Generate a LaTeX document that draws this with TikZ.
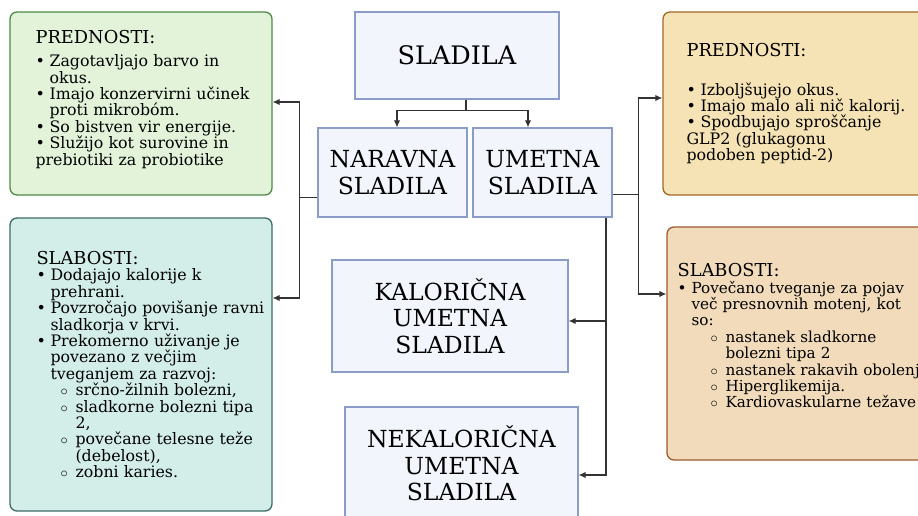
\documentclass[tikz,border=0pt]{standalone}
\usepackage{fontspec}
\setmainfont{DejaVu Serif}
\usepackage{tikz}
\usetikzlibrary{arrows.meta,positioning,calc}
\definecolor{greenFill}{HTML}{E2F3DA}
\definecolor{greenLine}{HTML}{4E8A45}
\definecolor{tealFill}{HTML}{D3EEE9}
\definecolor{tealLine}{HTML}{3D6B67}
\definecolor{tanFill}{HTML}{F5E3B5}
\definecolor{tanLine}{HTML}{A0692A}
\definecolor{peachFill}{HTML}{F1DBBB}
\definecolor{peachLine}{HTML}{9A5A32}
\definecolor{blueFill}{HTML}{F2F5FB}
\definecolor{blueLine}{HTML}{8C9CC9}
\colorlet{linkGray}{black!80}
\newcommand{\nl}{\hfil\break}
\newcommand{\hd}[2]{{\fontsize{17.8}{20}\selectfont #1\par}\vspace{#2}}
\newcommand{\bul}[1]{\par\hangindent=14pt\hangafter=1\noindent\makebox[14pt][l]{\textbullet}#1}
\newcommand{\subbul}[2][24pt]{\par\hangindent=\dimexpr#1+15pt\relax\hangafter=1\noindent\hspace*{#1}\makebox[15pt][l]{$\circ$}#2}

\begin{document}
\begin{tikzpicture}[x=1pt, y=-1pt,
    every node/.style={font=\fontsize{15.8}{16.4}\selectfont},
    pbox/.style={draw, line width=1.3pt, rounded corners=7pt},
    cbox/.style={draw=blueLine, fill=blueFill, line width=1.3pt, align=center, font=\fontsize{23.5}{26.5}\selectfont},
    ptxt/.style={anchor=west, text width=300pt, align=left, inner sep=0pt},
    link/.style={draw=linkGray, line width=1.2pt, -{Latex[length=7pt,width=6.5pt]}}]
    \useasboundingbox (0,0) rectangle (918,515);
    % side boxes
    \node[pbox, draw=greenLine, fill=greenFill, minimum width=262pt, minimum height=183pt] (adv1) at (141,103.5) {};
    \node[pbox, draw=tealLine, fill=tealFill, minimum width=262pt, minimum height=293pt] (dis1) at (141,364.5) {};
    \node[pbox, draw=tanLine, fill=tanFill, minimum width=267pt, minimum height=183pt] (adv2) at (796.5,103.5) {};
    \node[pbox, draw=peachLine, fill=peachFill, minimum width=263pt, minimum height=233pt] (dis2) at (798.5,343.5) {};
    % side texts
    \node[ptxt] (adv1txt) at ([xshift=26pt,yshift=4pt]adv1.west) {\hd{PREDNOSTI:}{6.5pt}%
        \bul{Zagotavljajo barvo in\nl okus.}%
        \bul{Imajo konzervirni učinek\nl proti mikrobóm.}%
        \bul{So bistven vir energije.}%
        \bul{Služijo kot surovine in\nl prebiotiki za probiotike}};
    \node[ptxt] (dis1txt) at ([xshift=27pt]dis1.west) {\hd{SLABOSTI:}{0pt}%
        \bul{Dodajajo kalorije k\nl prehrani.}%
        \bul{Povzročajo povišanje ravni\nl sladkorja v krvi.}%
        \bul{Prekomerno uživanje je\nl povezano z večjim\nl tveganjem za razvoj:}%
        \subbul{srčno-žilnih bolezni,}%
        \subbul{sladkorne bolezni tipa\nl 2,}%
        \subbul{povečane telesne teže\nl (debelost),}%
        \subbul{zobni karies.}};
    \node[ptxt] (adv2txt) at ([xshift=24pt]adv2.west) {\hd{PREDNOSTI:}{22.5pt}%
        \bul{Izboljšujejo okus.}%
        \bul{Imajo malo ali nič kalorij.}%
        \bul{Spodbujajo sproščanje\nl GLP2 (glukagonu\nl podoben peptid-2)}};
    \node[ptxt, font=\fontsize{15.2}{16.4}\selectfont] (dis2txt) at ([xshift=11pt,yshift=8pt]dis2.west) {\hd{SLABOSTI:}{0.5pt}%
        \bul{Povečano tveganje za pojav\nl več presnovnih motenj, kot\nl so:}%
        \subbul[33pt]{nastanek sladkorne\nl bolezni tipa 2}%
        \subbul[33pt]{nastanek rakavih obolenj}%
        \subbul[33pt]{Hiperglikemija.}%
        \subbul[33pt]{Kardiovaskularne težave}};
    % centre boxes
    \node[cbox, minimum width=204pt, minimum height=87pt, font=\fontsize{25.5}{28}\selectfont] (sweet) at (457,55.5) {SLADILA};
    \node[cbox, minimum width=149pt, minimum height=89pt] (nat) at (392.5,172.5) {NARAVNA\\SLADILA};
    \node[cbox, minimum width=139pt, minimum height=89pt] (art) at (542.5,172.5) {UMETNA\\SLADILA};
    \node[cbox, minimum width=236pt, minimum height=112pt] (cal) at (450,316) {KALORIČNA\\UMETNA\\SLADILA};
    \node[cbox, minimum width=233pt, minimum height=113pt] (ncal) at (461.5,463.5) {NEKALORIČNA\\UMETNA\\SLADILA};
    % connectors
    \draw[link] ([xshift=9pt]sweet.south) -- ++(0,11) -| ([xshift=4.5pt]nat.north);
    \draw[link] ([xshift=9pt]sweet.south) -- ++(0,11) -| ([xshift=-14.5pt]art.north);
    \draw[link, -] ([yshift=-25pt]nat.west) -- ++(-18,0) coordinate (lj);
    \draw[link] (lj) |- (adv1.east |- 0,102);
    \draw[link] (lj) |- (dis1.east |- 0,298);
    \draw[link, -] ([yshift=-22pt]art.east) -- ++(26,0) coordinate (rj);
    \draw[link] (rj) |- (adv2.west |- 0,98);
    \draw[link] (rj) |- (dis2.west |- 0,294);
    \draw[link] ([xshift=63.5pt]art.south) |- (cal.east |- 0,321);
    \draw[link] ([xshift=63.5pt]art.south) |- (ncal.east |- 0,475);
\end{tikzpicture}
\end{document}
